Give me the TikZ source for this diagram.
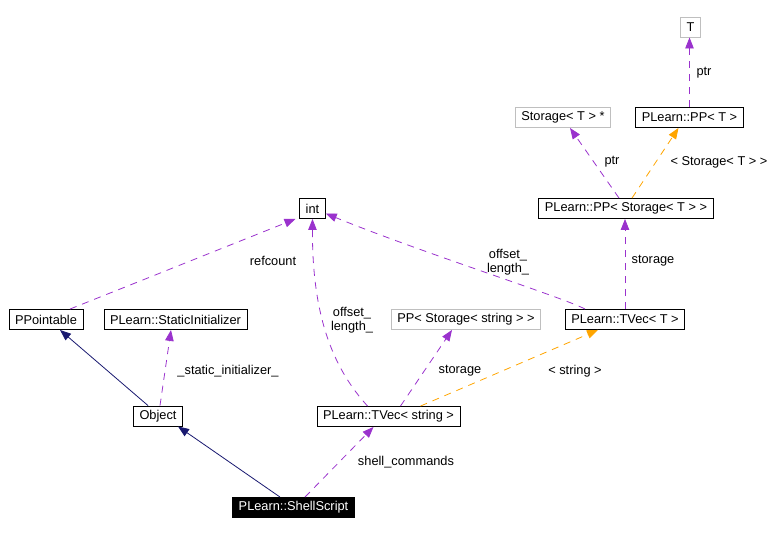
\documentclass[tikz,border=0pt]{standalone}
\usepackage{fontspec}
\setmainfont{Liberation Sans}
\usepackage{xcolor}
\usepackage{tikz}
\usetikzlibrary{positioning,calc,arrows.meta}

\definecolor{orchid}{HTML}{9A32CD}
\definecolor{tmplorange}{HTML}{FFA500}
\definecolor{navyblue}{HTML}{191970}
\definecolor{extgray}{HTML}{BFBFBF}

\begin{document}
\begin{tikzpicture}[x=1pt, y=-1pt, font=\fontsize{12.8}{14.5}\selectfont,
    cls/.style={draw=black, line width=0.9pt, fill=white, minimum height=20pt,
                inner xsep=6pt, inner ysep=0pt},
    ext/.style={cls, draw=extgray},
    cur/.style={cls, fill=black, text=white},
    lbl/.style={inner sep=0pt, align=center},
    use/.style={-{Triangle[length=11pt, width=8.5pt]}, line width=0.8pt, draw=orchid,
                dash pattern=on 7pt off 6pt},
    tmpl/.style={use, draw=tmplorange},
    inh/.style={-{Triangle[length=11pt, width=8.5pt]}, line width=0.8pt, draw=navyblue}]
    \useasboundingbox (0,0) rectangle (778,534);
    \node[ext] (tnode) at (690.5,27) {T};
    \node[cls] (ppt) at (689.5,117.5) {PLearn::PP< T >};
    \node[ext] (storptr) at (563,117.5) {Storage< T > *};
    \node[cls] (ppstor) at (626,208.5) {PLearn::PP< Storage< T > >};
    \node[cls] (int) at (312.5,208.5) {int};
    \node[cls] (ppointable) at (46,319.5) {PPointable};
    \node[cls] (statinit) at (175.5,319.5) {PLearn::StaticInitializer};
    \node[ext] (ppstr) at (466,319.5) {PP< Storage< string > >};
    \node[cls] (tvect) at (625,319.5) {PLearn::TVec< T >};
    \node[cls] (object) at (158,416) {Object};
    \node[cls] (tvecstr) at (388.5,416.5) {PLearn::TVec< string >};
    \node[cur] (shell) at (293.5,507.5) {PLearn::ShellScript};

    \draw[use] (ppt.north) -- (ppt.north |- tnode.south);
    \draw[use] ([xshift=-7pt]ppstor.north) -- ([xshift=7pt]storptr.south);
    \draw[tmpl] ([xshift=6pt]ppstor.north) -- ([xshift=-11pt]ppt.south);
    \draw[use] (tvect.north) -- (tvect.north |- ppstor.south);
    \draw[use] ([xshift=-40pt]tvect.north) .. controls (565,298) and (420,252) .. ([yshift=-5pt]int.east);
    \draw[use] ([xshift=24pt]ppointable.north) -- ([xshift=-17pt]int.south);
    \draw[use] ([xshift=-21pt]tvecstr.north) .. controls (335,370) and (312,320) .. (int.south);
    \draw[use] ([xshift=12pt]tvecstr.north) -- ([xshift=-14pt]ppstr.south);
    \draw[tmpl] ([xshift=32pt]tvecstr.north) -- ([xshift=-27pt]tvect.south);
    \draw[inh] ([xshift=-10pt]object.north) -- ([xshift=14pt]ppointable.south);
    \draw[use] ([xshift=2pt]object.north) -- ([xshift=-4.5pt]statinit.south);
    \draw[inh] ([xshift=-13.5pt]shell.north) -- ([xshift=20pt]object.south);
    \draw[use] ([xshift=11.5pt]shell.north) -- ([xshift=-15pt]tvecstr.south);

    \node[lbl] (l-ptrt) at (704,73) {ptr};
    \node[lbl] (l-ptrstor) at (612,162) {ptr};
    \node[lbl] (l-stort) at (719,162) {< Storage< T > >};
    \node[lbl] (l-storage) at (653,261) {storage};
    \node[lbl] (l-offlen) at (508,262) {offset\_\\length\_};
    \node[lbl] (l-refcount) at (273,261) {refcount};
    \node[lbl] (l-offlenstr) at (352,320) {offset\_\\length\_};
    \node[lbl] (l-storstr) at (460,371) {storage};
    \node[lbl] (l-string) at (575,371) {< string >};
    \node[lbl] (l-statinit) at (228,371) {\_static\_initializer\_};
    \node[lbl] (l-shell) at (406,462) {shell\_commands};
  \end{tikzpicture}
\end{document}
